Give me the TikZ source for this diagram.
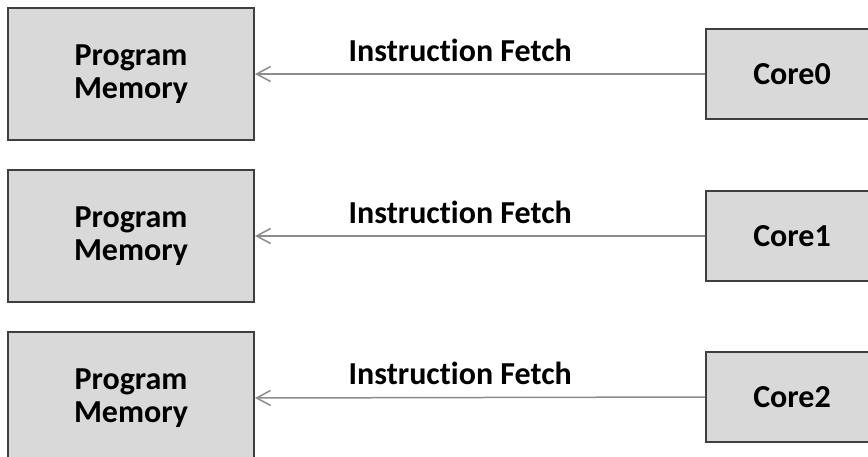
\documentclass[tikz,border=0pt]{standalone}
\usepackage{fontspec}
\setmainfont{Carlito}[Ligatures=NoCommon]
\usetikzlibrary{arrows.meta}
\definecolor{boxfill}{HTML}{D9D9D9}
\definecolor{boxline}{HTML}{3F3F3F}
\definecolor{fetchline}{HTML}{8C8C8C}
\tikzset{
  membox/.style={draw=boxline, fill=boxfill, line width=2pt,
    minimum width=246pt, minimum height=132pt, inner sep=0pt,
    align=center, font=\fontsize{32}{33}\selectfont\bfseries},
  corebox/.style={draw=boxline, fill=boxfill, line width=2pt,
    minimum width=172pt, minimum height=90pt, inner sep=0pt,
    font=\fontsize{32}{33}\selectfont\bfseries},
  fetch/.style={draw=fetchline, line width=1.5pt,
    -{Straight Barb[length=14pt, width=15pt, line width=1.5pt]}},
  fetchlabel/.style={font=\fontsize{32}{33}\selectfont\bfseries,
    inner sep=0pt, above=12pt, pos=0.544}
}
\begin{document}
\begin{tikzpicture}[x=1pt, y=-1pt]
  \clip (0,0) rectangle (868,456);
  \fill[white] (0,0) rectangle (868,456);

  % memory blocks on the left
  \node[membox] (pm0) at (131,74)  {Program\\Memory};
  \node[membox] (pm1) at (131,236) {Program\\Memory};
  \node[membox] (pm2) at (131,398) {Program\\Memory};

  % cores on the right
  \node[corebox] (c0) at (792,74)  {Core0};
  \node[corebox] (c1) at (792,236) {Core1};
  \node[corebox] (c2) at (792,397) {Core2};

  % instruction fetch paths
  \draw[fetch] (c0.west) -- (pm0.east) node[fetchlabel] (l0) {Instruction Fetch};
  \draw[fetch] (c1.west) -- (pm1.east) node[fetchlabel] (l1) {Instruction Fetch};
  \draw[fetch] (c2.west) -- (pm2.east) node[fetchlabel] (l2) {Instruction Fetch};
\end{tikzpicture}
\end{document}
